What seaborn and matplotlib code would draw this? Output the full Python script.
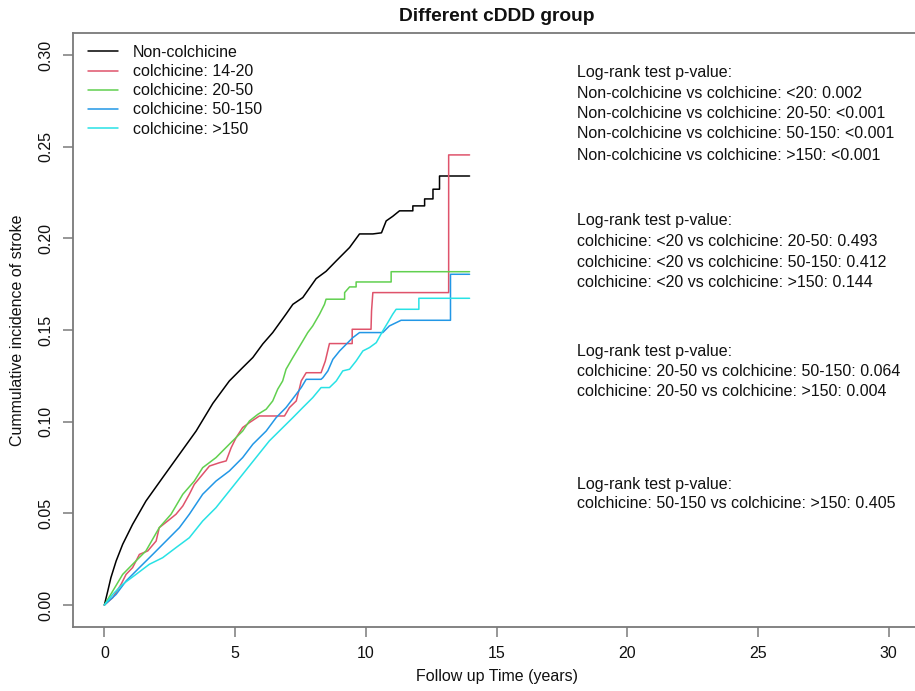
import matplotlib
matplotlib.use("Agg")
import matplotlib.pyplot as plt
from matplotlib.lines import Line2D
import seaborn as sns
import pandas as pd

# ---------------- data ----------------
groups = ["Non-colchicine", "colchicine: 14-20", "colchicine: 20-50",
          "colchicine: 50-150", "colchicine: >150"]
colors = ["#000000", "#DF536B", "#61D04F", "#2297E6", "#28E2E5"]

black_t = [0, 0.13, 0.25, 0.45, 0.70, 1.08, 1.59, 2.23, 2.87, 3.51, 4.15, 4.78, 5.29,
           5.68, 6.06, 6.44, 6.95, 7.21, 7.59, 8.10, 8.48, 8.87, 9.38, 9.76, 10.27,
           10.60, 10.78, 11.03, 11.29, 11.80, 11.80, 12.25, 12.25, 12.57, 12.57,
           12.82, 12.82, 13.97]
black_y = [0, 0.0076, 0.0149, 0.0240, 0.0331, 0.0440, 0.0567, 0.0695, 0.0822, 0.0949,
           0.1100, 0.1222, 0.1295, 0.1350, 0.1424, 0.1486, 0.1587, 0.1640, 0.1677,
           0.1780, 0.1820, 0.1877, 0.1950, 0.2024, 0.2024, 0.2030, 0.2095, 0.2120,
           0.2150, 0.2150, 0.2177, 0.2177, 0.2215, 0.2215, 0.2268, 0.2268, 0.2340,
           0.2340]

red_t = [0, 0.32, 0.64, 0.83, 1.08, 1.34, 1.66, 1.98, 2.10, 2.42, 2.74, 3.00, 3.25,
         3.44, 3.76, 4.02, 4.40, 4.66, 4.85, 5.04, 5.29, 5.55, 5.93, 6.89, 7.08, 7.34,
         7.46, 7.53, 7.72, 8.29, 8.45, 8.61, 9.48, 9.48, 10.20, 10.22, 10.27, 13.17,
         13.17, 13.97]
red_y = [0, 0.0040, 0.0113, 0.0167, 0.0204, 0.0276, 0.0295, 0.0349, 0.0422, 0.0458,
         0.0495, 0.0540, 0.0604, 0.0658, 0.0713, 0.0758, 0.0776, 0.0786, 0.0858,
         0.0913, 0.0968, 0.0995, 0.1031, 0.1031, 0.1077, 0.1113, 0.1180, 0.1222,
         0.1267, 0.1267, 0.1330, 0.1426, 0.1426, 0.1504, 0.1504, 0.1604, 0.1704,
         0.1704, 0.2455, 0.2455]

green_t = [0, 0.32, 0.70, 1.08, 1.59, 2.10, 2.55, 3.00, 3.44, 3.76, 4.27, 4.78, 5.29,
           5.55, 5.87, 6.19, 6.44, 6.63, 6.82, 6.95, 7.21, 7.40, 7.59, 7.78, 7.97,
           8.23, 8.42, 8.48, 9.19, 9.19, 9.38, 9.63, 9.63, 10.97, 10.97, 13.97]
green_y = [0, 0.0076, 0.0167, 0.0222, 0.0295, 0.0422, 0.0495, 0.0604, 0.0676, 0.0749,
           0.0804, 0.0877, 0.0949, 0.1004, 0.1040, 0.1068, 0.1113, 0.1177, 0.1222,
           0.1286, 0.1350, 0.1395, 0.1440, 0.1486, 0.1522, 0.1586, 0.1640, 0.1668,
           0.1668, 0.1704, 0.1735, 0.1735, 0.1762, 0.1762, 0.1818, 0.1818]

blue_t = [0, 0.45, 0.83, 1.34, 1.85, 2.36, 2.87, 3.25, 3.76, 4.27, 4.78, 5.29, 5.68,
          6.19, 6.57, 6.95, 7.34, 7.53, 7.72, 8.29, 8.36, 8.55, 8.74, 9.00, 9.25, 9.50,
          9.76, 10.65, 10.90, 11.35, 13.24, 13.24, 13.97]
blue_y = [0, 0.0058, 0.0131, 0.0204, 0.0276, 0.0349, 0.0422, 0.0495, 0.0604, 0.0676,
          0.0731, 0.0804, 0.0877, 0.0949, 0.1022, 0.1077, 0.1150, 0.1186, 0.1231,
          0.1231, 0.1240, 0.1277, 0.1340, 0.1386, 0.1422, 0.1458, 0.1486, 0.1486,
          0.1522, 0.1553, 0.1553, 0.1804, 0.1804]

cyan_t = [0, 0.32, 0.70, 1.21, 1.72, 2.23, 2.74, 3.25, 3.76, 4.27, 4.78, 5.29, 5.80,
          6.31, 6.82, 7.21, 7.59, 7.97, 8.29, 8.61, 8.87, 9.12, 9.38, 9.63, 9.89,
          10.14, 10.40, 10.65, 10.84, 11.03, 11.16, 12.03, 12.03, 13.97]
cyan_y = [0, 0.0058, 0.0113, 0.0167, 0.0222, 0.0258, 0.0313, 0.0367, 0.0458, 0.0531,
          0.0622, 0.0713, 0.0804, 0.0895, 0.0967, 0.1022, 0.1077, 0.1131, 0.1186,
          0.1186, 0.1222, 0.1277, 0.1286, 0.1331, 0.1386, 0.1404, 0.1431, 0.1495,
          0.1540, 0.1586, 0.1613, 0.1613, 0.1673, 0.1673]

x_ticks = [0, 5, 10, 15, 20, 25, 30]
y_ticks = [0.00, 0.05, 0.10, 0.15, 0.20, 0.25, 0.30]
y_tick_labels = ["0.00", "0.05", "0.10", "0.15", "0.20", "0.25", "0.30"]

title = "Different cDDD group"
x_label = "Follow up Time (years)"
y_label = "Cummulative incidence of stroke"

text_blocks = [
    ["Log-rank test p-value:",
     "Non-colchicine vs colchicine: <20: 0.002",
     "Non-colchicine vs colchicine: 20-50: <0.001",
     "Non-colchicine vs colchicine: 50-150: <0.001",
     "Non-colchicine vs colchicine: >150: <0.001"],
    ["Log-rank test p-value:",
     "colchicine: <20 vs colchicine: 20-50: 0.493",
     "colchicine: <20 vs colchicine: 50-150: 0.412",
     "colchicine: <20 vs colchicine: >150: 0.144"],
    ["Log-rank test p-value:",
     "colchicine: 20-50 vs colchicine: 50-150: 0.064",
     "colchicine: 20-50 vs colchicine: >150: 0.004"],
    ["Log-rank test p-value:",
     "colchicine: 50-150 vs colchicine: >150: 0.405"],
]

# ---------------- build long table ----------------
series_t = [black_t, red_t, green_t, blue_t, cyan_t]
series_y = [black_y, red_y, green_y, blue_y, cyan_y]
rows = []
for g, ts, ys in zip(groups, series_t, series_y):
    for t, v in zip(ts, ys):
        rows.append({"time": t, "cuminc": v, "group": g})
df = pd.DataFrame(rows)

# ---------------- style ----------------
sns.set_style("white")
plt.rcParams["font.family"] = ["Liberation Sans", "DejaVu Sans"]

W, H = 915, 691
fig = plt.figure(figsize=(W / 100, H / 100), dpi=100)
ax_l, ax_r, ax_t, ax_b = 73, 920, 33, 627
ax = fig.add_axes([ax_l / W, 1 - ax_b / H, (ax_r - ax_l) / W, (ax_b - ax_t) / H])

sns.lineplot(data=df, x="time", y="cuminc", hue="group", hue_order=groups,
             palette=dict(zip(groups, colors)), sort=False, estimator=None,
             linewidth=1.1, legend=False, ax=ax)

ax.set_xlim(-1.2, 31.2)
ax.set_ylim(-0.012, 0.312)
ax.set_xticks(x_ticks)
ax.set_xticklabels([str(v) for v in x_ticks])
ax.set_yticks(y_ticks)
ax.set_yticklabels(y_tick_labels, rotation=90, va="center")

frame_col = "#7a7a7a"
for s in ax.spines.values():
    s.set_visible(True)
    s.set_color(frame_col)
    s.set_linewidth(1.3)
ax.tick_params(axis="both", which="both", direction="out", length=7,
               width=1.1, color=frame_col, labelsize=11.5, pad=7,
               labelcolor="#111111")
ax.tick_params(axis="x", bottom=True)
ax.tick_params(axis="y", left=True)

ax.set_xlabel(x_label, fontsize=11.5, color="#111111")
ax.set_ylabel(y_label, fontsize=11.5, color="#111111")
ax.xaxis.set_label_coords(0.5, -(677 - ax_b) / (ax_b - ax_t))
ax.xaxis.label.set_va("center")
ax.yaxis.set_label_coords(-(ax_l - 18) / (ax_r - ax_l), 0.5)
ax.yaxis.label.set_va("center")

ax.set_title(title, fontsize=13.8, fontweight="bold", pad=0,
             y=1 + (ax_t - 17) / (ax_b - ax_t), va="center", color="#111111")

# legend
handles = [Line2D([0], [0], color=c, lw=1.1) for c in colors]
ax.legend(handles, groups, loc="upper left",
          bbox_to_anchor=(88 / W, 1 - 45 / H), bbox_transform=fig.transFigure,
          frameon=False, fontsize=11.5, handlelength=1.85, handletextpad=0.95,
          labelspacing=0.26, borderpad=0, borderaxespad=0, labelcolor="#111111")

# log-rank annotations
block_y = [[73, 94, 114, 134, 155], [220, 241, 262, 282], [352, 372, 392], [484, 504]]
for lines, ys in zip(text_blocks, block_y):
    for line, yy in zip(lines, ys):
        fig.text(577 / W, 1 - yy / H, line, fontsize=11.5, ha="left", va="center",
                 color="#111111")

fig.savefig("out.png", dpi=100)
